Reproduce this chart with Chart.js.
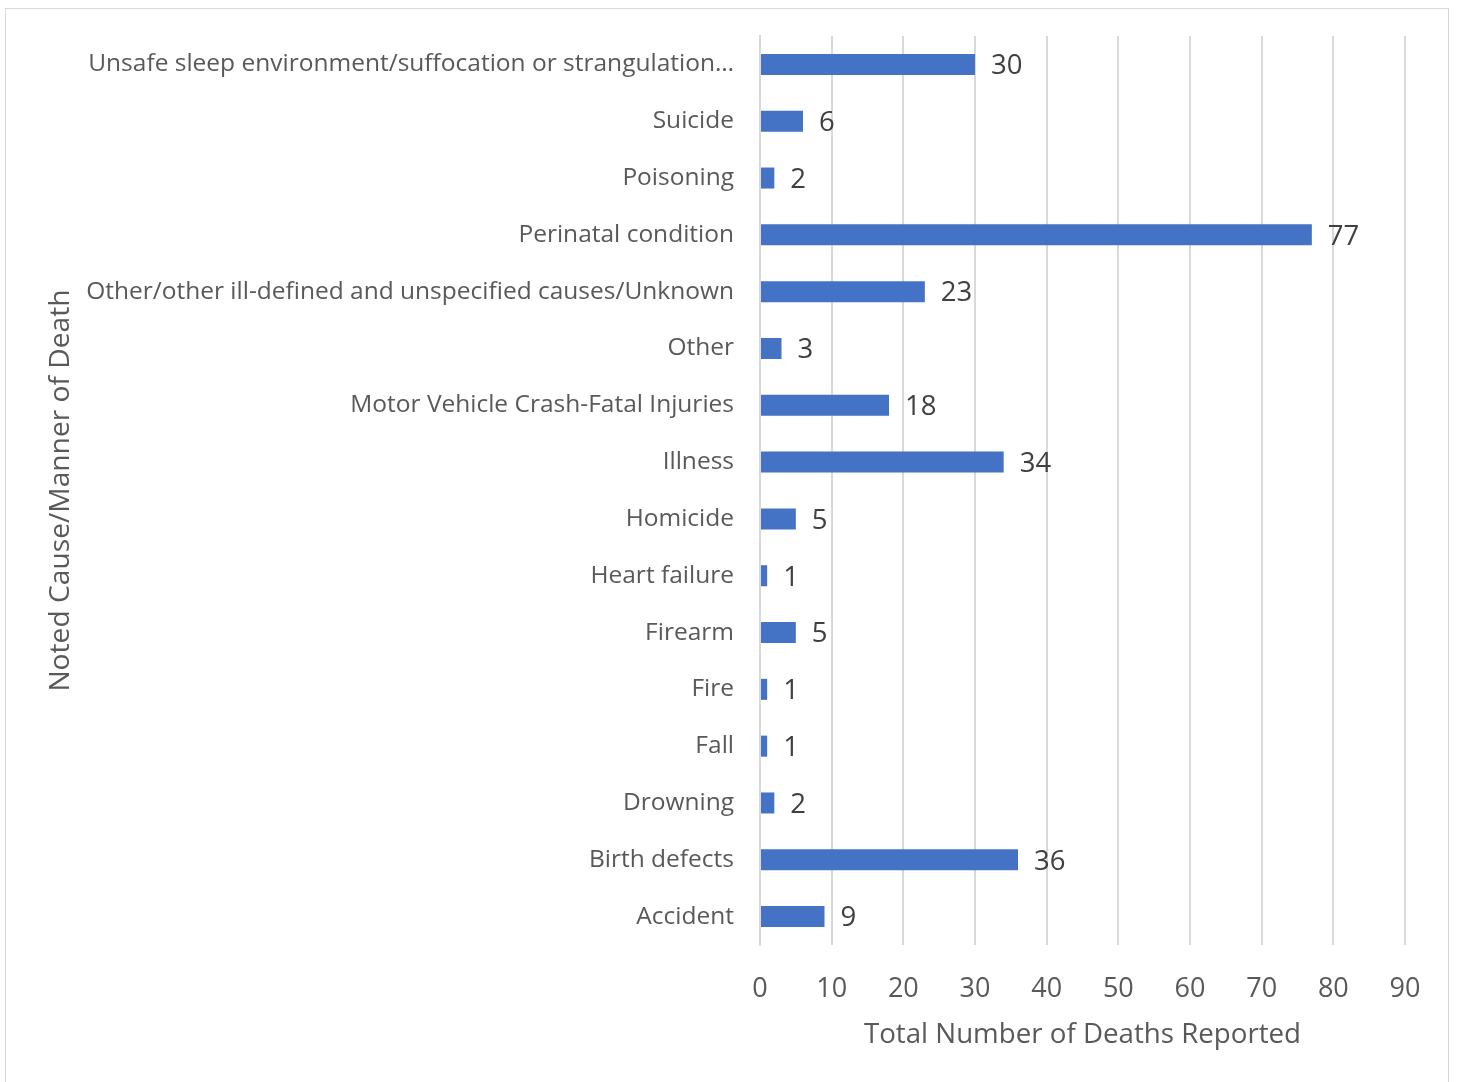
<!DOCTYPE html>
<html><head><meta charset="utf-8">
<script src="https://cdn.jsdelivr.net/npm/chart.js@4"></script>
<style>
html,body{margin:0;padding:0;background:#fff;}
#wrap{position:relative;width:1458px;height:1082px;}
#frame{position:absolute;left:5px;top:8px;width:1444px;height:1080px;border:1px solid #d9d9d9;box-sizing:border-box;pointer-events:none;}
</style></head><body>
<div id="wrap"><canvas id="c" width="1458" height="1082"></canvas><div id="frame"></div></div>
<script>
const categories = ["Unsafe sleep environment/suffocation or strangulation…","Suicide","Poisoning","Perinatal condition","Other/other ill-defined and unspecified causes/Unknown","Other","Motor Vehicle Crash-Fatal Injuries","Illness","Homicide","Heart failure","Firearm","Fire","Fall","Drowning","Birth defects","Accident"];
const deaths = [30,6,2,77,23,3,18,34,5,1,5,1,1,2,36,9];
const xTicks = [0,10,20,30,40,50,60,70,80,90];

const FONT = "'Open Sans', sans-serif";
const labelPlugin = {
  id:'vals',
  afterDatasetsDraw(chart){
    const ctx = chart.ctx, meta = chart.getDatasetMeta(0);
    ctx.save();
    ctx.font = "27.5px " + FONT;
    ctx.fillStyle = "#404040";
    ctx.textBaseline = "middle";
    ctx.textAlign = "left";
    meta.data.forEach((bar,i)=>{
      ctx.fillText(String(deaths[i]), bar.x + 16, bar.y + 2);
    });
    ctx.restore();
  }
};

new Chart(document.getElementById('c'),{
  type:'bar',
  data:{labels:categories,datasets:[{data:deaths,backgroundColor:'#4472C4',categoryPercentage:1,barPercentage:0.37}]},
  options:{
    indexAxis:'y',responsive:false,animation:false,
    layout:{padding:{left:40,top:36,right:53,bottom:30}},
    plugins:{legend:{display:false},tooltip:{enabled:false}},
    scales:{
      x:{min:0,max:90,
        afterBuildTicks(s){s.ticks = xTicks.map(v=>({value:v}));},
        grid:{color:'#d9d9d9',lineWidth:2,drawTicks:false},
        border:{display:false},
        ticks:{color:'#595959',font:{size:27,family:FONT},padding:28},
        title:{display:true,text:'Total Number of Deaths Reported',color:'#595959',font:{size:27.7,family:FONT},padding:{top:6,bottom:0}},
        afterFit(s){s.height = 107; s.paddingLeft = 0; s.paddingRight = 0;}
      },
      y:{
        grid:{display:false,drawTicks:false},
        border:{display:true,color:'#d9d9d9',width:2},
        ticks:{color:'#595959',font:{size:24.5,family:FONT},padding:26},
        title:{display:true,text:'Noted Cause/Manner of Death',color:'#595959',font:{size:28.2,family:FONT},padding:{bottom:0}},
        afterFit(s){s.width = 720; s.paddingTop = 0; s.paddingBottom = 0;}
      }
    }
  },
  plugins:[labelPlugin]
});
</script></body></html>
